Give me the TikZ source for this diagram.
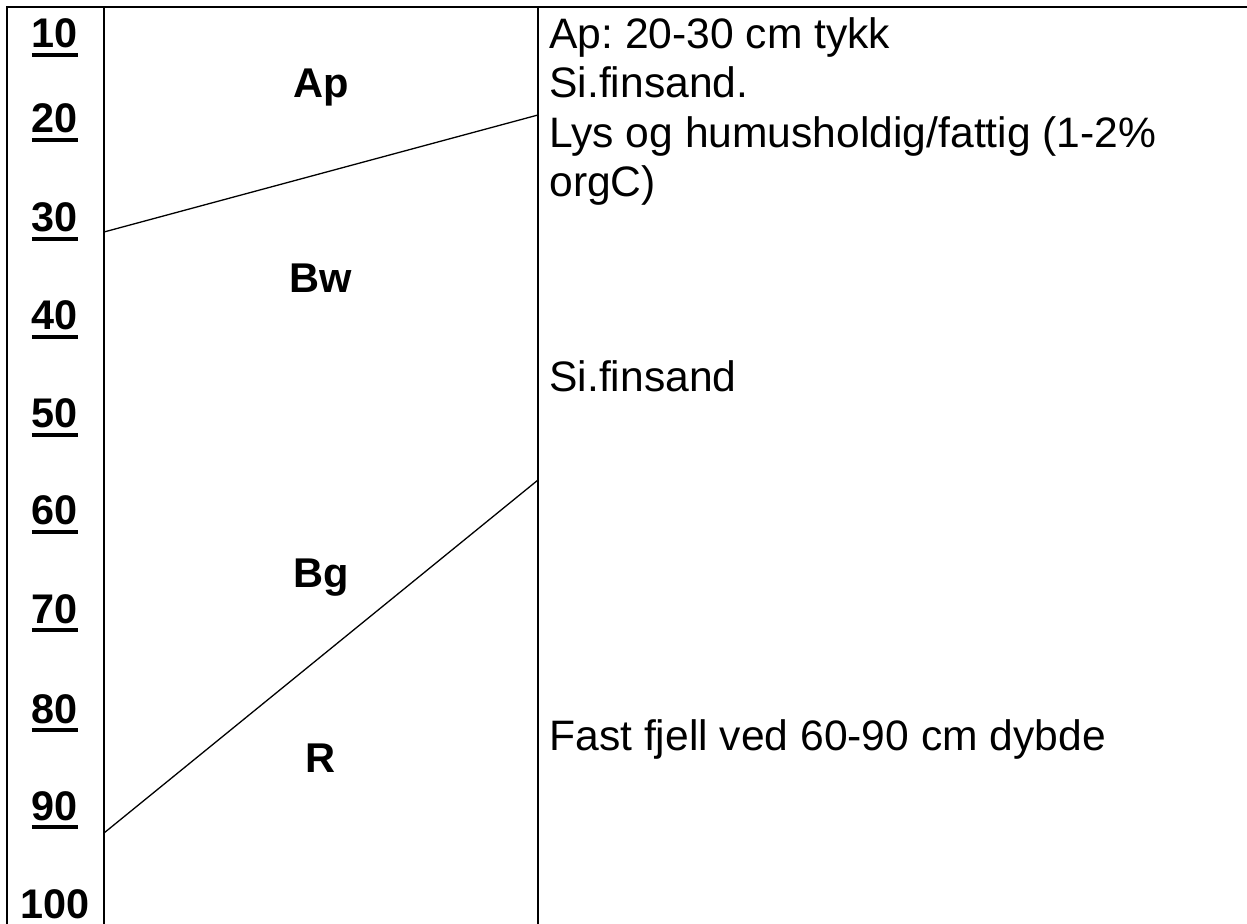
\documentclass[tikz,border=0pt]{standalone}
\usepackage{fontspec}
\setmainfont{Liberation Sans}
\usetikzlibrary{positioning}
\frenchspacing
\newcommand{\depthmark}[1]{\vtop{\hbox{#1}\kern2.5pt\hrule height 2pt}}
\tikzset{
  depthlabel/.style={anchor=base,inner sep=0pt,font=\fontsize{20.7pt}{24pt}\selectfont\bfseries},
  horizon/.style={anchor=base,inner sep=0pt,font=\fontsize{20.8pt}{24pt}\selectfont\bfseries},
  note/.style={anchor=base west,inner sep=0pt,align=left,font=\fontsize{21.3pt}{24.75pt}\selectfont},
  frame/.style={draw=black,line width=1pt},
  boundary/.style={draw=black,line width=0.65pt}
}
\begin{document}
\begin{tikzpicture}[x=0.5pt,y=-0.5pt]
  \useasboundingbox (0,0) rectangle (1247,924);
  % frame
  \coordinate (top-end) at (1247,7);
  \coordinate (corner) at (7,7);
  \draw[frame] (top-end) -- (corner) -- (7,924);
  \draw[frame] (104,7) -- (104,924);
  \draw[frame] (538,7) -- (538,924);
  % depth scale
  \foreach \d/\y in {10/48,20/133,30/232,40/330,50/428,60/525,70/623,80/723,90/820}
    \node[depthlabel] (d\d) at (55,\y) {\depthmark{\d}};
  \node[depthlabel] (d100) at (55,918) {100};
  % horizons
  \node[horizon] (ap) at (321,98) {Ap};
  \node[horizon] (bw) at (321,293) {Bw};
  \node[horizon] (bg) at (321,588) {Bg};
  \node[horizon] (r) at (321,772) {R};
  \coordinate (apbw-l) at (104,232);
  \coordinate (apbw-r) at (538,115);
  \coordinate (bgr-l) at (104,833);
  \coordinate (bgr-r) at (538,480);
  \draw[boundary] (apbw-l) -- (apbw-r);
  \draw[boundary] (bgr-l) -- (bgr-r);
  % descriptions (base = last line)
  \node[note] (desc-ap) at (549,197) {Ap: 20-30 cm tykk\\Si.finsand.\\Lys og humusholdig/fattig (1-2\%\\orgC)};
  \node[note] (desc-bw) at (549,392) {Si.finsand};
  \node[note] (desc-r) at (549,750) {Fast fjell ved 60-90 cm dybde};
\end{tikzpicture}
\end{document}
